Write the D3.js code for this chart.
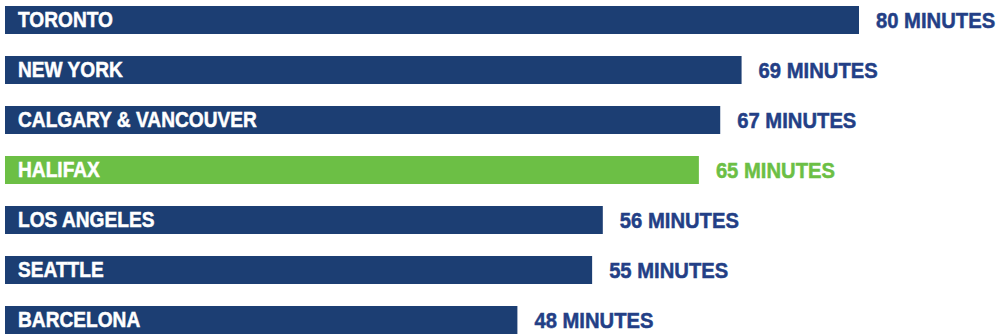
<!DOCTYPE html>
<html>
<head>
<meta charset="utf-8">
<script src="https://cdn.jsdelivr.net/npm/d3@7"></script>
<style>
  html, body { margin: 0; padding: 0; background: #fff; }
  svg { display: block; }
  text { font-family: "Liberation Sans", Arial, sans-serif; font-weight: bold; }
</style>
</head>
<body>
<svg id="chart" width="998" height="334"></svg>
<script>
// Average commute times by city
const cities = ["TORONTO", "NEW YORK", "CALGARY & VANCOUVER", "HALIFAX", "LOS ANGELES", "SEATTLE", "BARCELONA"];
const minutes = [80, 69, 67, 65, 56, 55, 48];
const highlight = "HALIFAX";

const navy = "#1c3e73";
const navyText = "#233f86";
const green = "#6cbf45";

const svg = d3.select("#chart");

const x = d3.scaleLinear().domain([0, 80]).range([5, 859]);
const y = d3.scaleBand().domain(cities).range([6, 356])
  .paddingInner(0.44).paddingOuter(0.22).align(0);

const rows = svg.selectAll("g.row")
  .data(cities.map((c, i) => ({ city: c, value: minutes[i] })))
  .join("g")
  .attr("class", "row")
  .attr("transform", d => `translate(0,${y(d.city)})`);

rows.append("rect")
  .attr("x", x(0))
  .attr("y", 0)
  .attr("width", d => x(d.value) - x(0))
  .attr("height", y.bandwidth())
  .attr("fill", d => d.city === highlight ? green : navy);

// condensed look: squeeze the bold face horizontally
const nameSqueeze = 0.87;
const valueSqueeze = 0.92;

rows.append("g")
  .attr("transform", `translate(18,21) scale(${nameSqueeze},1)`)
  .append("text")
  .attr("font-size", 22)
  .attr("fill", "#fff")
  .attr("stroke", "#fff")
  .attr("stroke-width", 0.5)
  .text(d => d.city);

rows.append("g")
  .attr("transform", d => `translate(${x(d.value) + 17},22) scale(${valueSqueeze},1)`)
  .append("text")
  .attr("font-size", 22)
  .attr("fill", d => d.city === highlight ? green : navyText)
  .attr("stroke", d => d.city === highlight ? green : navyText)
  .attr("stroke-width", 0.5)
  .text(d => `${d.value} MINUTES`);
</script>
</body>
</html>
